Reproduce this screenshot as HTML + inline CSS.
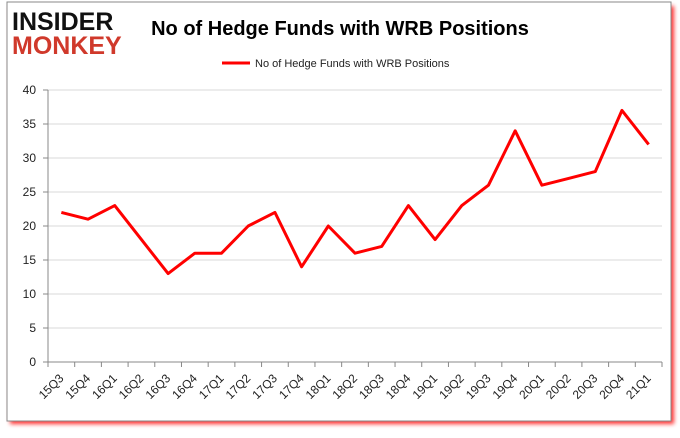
<!DOCTYPE html>
<html><head><meta charset="utf-8"><style>
body{margin:0;background:#fff;width:680px;height:433px;overflow:hidden;font-family:"Liberation Sans",sans-serif}
</style></head><body>
<svg width="680" height="433" viewBox="0 0 680 433">
<defs><filter id="sh" x="-5%" y="-5%" width="110%" height="115%"><feGaussianBlur stdDeviation="2"/></filter></defs>
<rect x="10" y="6" width="664" height="418" fill="#f00" opacity="0.8" filter="url(#sh)"/>
<rect x="7" y="2" width="664" height="419" fill="#fff" stroke="#888" stroke-width="1"/>
<text x="12" y="30" font-size="25" font-weight="900" fill="#111">INSIDER</text>
<text x="12" y="54" font-size="25" font-weight="900" fill="#d0392b">MONKEY</text>
<text x="340" y="35" font-size="20" font-weight="bold" text-anchor="middle" fill="#000">No of Hedge Funds with WRB Positions</text>
<line x1="222" y1="63" x2="250" y2="63" stroke="#f00" stroke-width="3"/>
<text x="255" y="67" font-size="11" fill="#222">No of Hedge Funds with WRB Positions</text>
<g id="grid"></g><g id="axes"></g><path id="series" fill="none" stroke="#f00" stroke-width="3" stroke-linejoin="round"/>
</svg>
<script>
const categories=["15Q3","15Q4","16Q1","16Q2","16Q3","16Q4","17Q1","17Q2","17Q3","17Q4","18Q1","18Q2","18Q3","18Q4","19Q1","19Q2","19Q3","19Q4","20Q1","20Q2","20Q3","20Q4","21Q1"];
const values=[22,21,23,18,13,16,16,20,22,14,20,16,17,23,18,23,26,34,26,27,28,37,32];
const yTicks=[0,5,10,15,20,25,30,35,40];
const ns="http://www.w3.org/2000/svg";
const L=48,R=662,T=90,B=362,step=(R-L)/categories.length;
const x=i=>L+step*(i+0.5), y=v=>B-(v/40)*(B-T);
const grid=document.getElementById('grid'),axes=document.getElementById('axes');
function mk(tag,at,parent){const e=document.createElementNS(ns,tag);for(const k in at)e.setAttribute(k,at[k]);parent.appendChild(e);return e;}
yTicks.forEach(t=>{
 const g=mk('line',{x1:L,x2:R,y1:y(t),y2:y(t),stroke:t===0?'#888':'#d9d9d9'},grid);
 
 
 const tk=mk('line',{x1:L-5,x2:L,y1:y(t),y2:y(t),stroke:'#888'},axes);
 
 
 const lb=mk('text',{x:L-12,y:y(t)+4,'font-size':12,'text-anchor':'end',fill:'#222'},axes);
 lb.textContent=t;
 
 
});
const ax=mk('line',{x1:L,x2:L,y1:T,y2:B,stroke:'#888'},axes);


categories.forEach((c,i)=>{
 const xt=L+step*i;
 const tk=mk('line',{x1:xt,x2:xt,y1:B,y2:B+5,stroke:'#888'},axes);
 
 
 const lx=x(i)+3,ly=B+17;
 const lb=mk('text',{x:lx,y:ly,'font-size':12,'text-anchor':'end',fill:'#222',transform:`rotate(-45 ${lx} ${ly})`},axes);
 lb.textContent=c;
 
 
});
const et=mk('line',{x1:R,x2:R,y1:B,y2:B+5,stroke:'#888'},axes);


const p=document.getElementById('series');
p.setAttribute('d',values.map((v,i)=>(i?'L':'M')+x(i)+' '+y(v)).join(' '));


</script>
</body></html>
